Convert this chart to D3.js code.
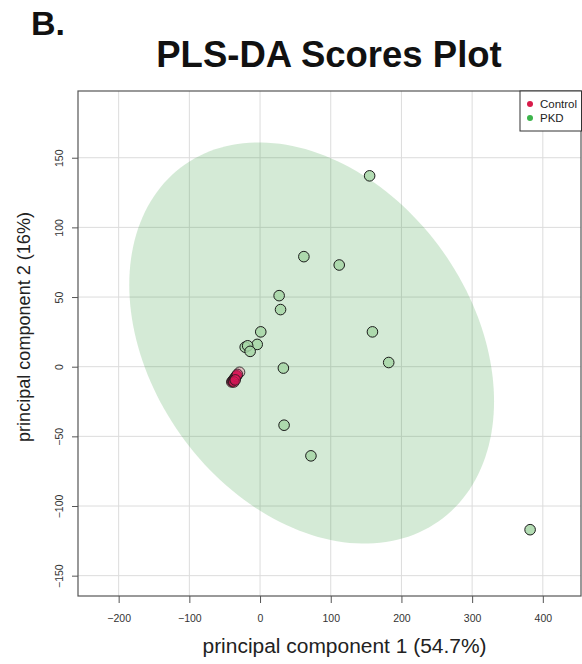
<!DOCTYPE html>
<html>
<head>
<meta charset="utf-8">
<script src="https://cdn.jsdelivr.net/npm/d3@7"></script>
<style>
  html, body { margin: 0; padding: 0; background: #fff; }
  svg { display: block; }
  text { font-family: "Liberation Sans", Arial, sans-serif; }
</style>
</head>
<body>
<svg id="chart" width="582" height="664"></svg>
<script>
// ---- data ----
const pkdX = [155, 62, 112, 27, 29, 1, 159, -4, -21, -17.5, -14, 182, 33, 34, 72, 382];
const pkdY = [137, 79, 73, 51, 41, 25, 25, 16, 14, 15, 11, 3, -1, -42, -64, -117];
const controlX = [-29, -40, -39, -38, -37, -36, -35, -34, -33, -32, -37, -35];
const controlY = [-4, -11, -10.5, -10, -9, -8.5, -8, -7, -6.5, -5.5, -11, -9.5];
const xTicks = [-200, -100, 0, 100, 200, 300, 400];
const yTicks = [-150, -100, -50, 0, 50, 100, 150];
const xDomain = [-257.5, 454];
const yDomain = [-164.6, 197.9];
// confidence ellipse of PKD group (centre, half extents, correlation)
const ellipseCenter = [73, 17];
const ellipseHalf = [258, 144];
const ellipseCorr = -0.29;
const legendLabels = ["Control", "PKD"];
const legendColors = ["#d81b4a", "#3cb44b"];

const svg = d3.select("#chart");
const L = 78, R = 581, T = 91, B = 596;
const x = d3.scaleLinear().domain(xDomain).range([L, R]);
const y = d3.scaleLinear().domain(yDomain).range([B, T]);

// titles
svg.append("text").attr("x", 31).attr("y", 35)
  .attr("font-size", 34).attr("font-weight", "bold").attr("fill", "#111").text("B.");
svg.append("text").attr("x", 329).attr("y", 67).attr("text-anchor", "middle")
  .attr("font-size", 36.5).attr("font-weight", "bold").attr("fill", "#111")
  .text("PLS-DA Scores Plot");

// grid
const g = svg.append("g");
g.selectAll(".gx").data(xTicks).join("line")
  .attr("x1", d => x(d)).attr("x2", d => x(d)).attr("y1", T).attr("y2", B)
  .attr("stroke", "#dcdcdc").attr("stroke-width", 1);
g.selectAll(".gy").data(yTicks).join("line")
  .attr("y1", d => y(d)).attr("y2", d => y(d)).attr("x1", L).attr("x2", R)
  .attr("stroke", "#dcdcdc").attr("stroke-width", 1);

// ellipse
const delta = Math.acos(ellipseCorr);
const tt = d3.range(0, 2 * Math.PI + 0.001, Math.PI / 90);
const ell = tt.map(t => [ellipseCenter[0] + ellipseHalf[0] * Math.cos(t),
                         ellipseCenter[1] + ellipseHalf[1] * Math.cos(t - delta)]);
svg.append("path").datum(ell)
  .attr("d", d3.line().x(d => x(d[0])).y(d => y(d[1])).curve(d3.curveLinearClosed))
  .attr("fill", "rgb(40,150,50)").attr("fill-opacity", 0.2).attr("stroke", "none");

// points
const pkd = pkdX.map((v, i) => [v, pkdY[i]]);
const ctrl = controlX.map((v, i) => [v, controlY[i]]);
svg.append("g").selectAll("circle").data(pkd).join("circle")
  .attr("cx", d => x(d[0])).attr("cy", d => y(d[1])).attr("r", 5.3)
  .attr("fill", "#a6d6a6").attr("fill-opacity", 0.85)
  .attr("stroke", "#1a1a1a").attr("stroke-width", 1);
svg.append("g").selectAll("circle").data(ctrl).join("circle")
  .attr("cx", d => x(d[0])).attr("cy", d => y(d[1])).attr("r", 5.3)
  .attr("fill", (d, i) => i === 0 ? "#e8a0b0" : "#e0185a").attr("fill-opacity", 0.6)
  .attr("stroke", "#1a1a1a").attr("stroke-width", 1).attr("stroke-opacity", 0.8);

// frame
svg.append("rect").attr("x", L).attr("y", T).attr("width", R - L).attr("height", B - T)
  .attr("fill", "none").attr("stroke", "#555").attr("stroke-width", 1.2);

// x axis
const xa = svg.append("g").attr("transform", `translate(0,${B})`)
  .call(d3.axisBottom(x).tickValues(xTicks).tickSize(7).tickPadding(12));
xa.select(".domain").remove();
xa.selectAll("line").attr("stroke", "#555");
xa.selectAll("text").attr("font-size", 10.5).attr("fill", "#333")
  .attr("font-family", "Liberation Sans, Arial, sans-serif");

// y axis
const ya = svg.append("g").attr("transform", `translate(${L},0)`)
  .call(d3.axisLeft(y).tickValues(yTicks).tickSize(6));
ya.select(".domain").remove();
ya.selectAll("line").attr("stroke", "#555");
ya.selectAll(".tick text")
  .attr("font-size", 10.5).attr("fill", "#333")
  .attr("font-family", "Liberation Sans, Arial, sans-serif")
  .attr("text-anchor", "middle").attr("x", 0).attr("y", 0).attr("dy", 0)
  .attr("transform", "translate(-15,0) rotate(-90)");

// axis titles
svg.append("text").attr("x", 344.5).attr("y", 653).attr("text-anchor", "middle")
  .attr("font-size", 20).attr("fill", "#222")
  .attr("textLength", 284).attr("lengthAdjust", "spacingAndGlyphs")
  .text("principal component 1 (54.7%)");
svg.append("text").attr("transform", "translate(30,327) rotate(-90)")
  .attr("text-anchor", "middle").attr("font-size", 19).attr("fill", "#222")
  .attr("textLength", 230).attr("lengthAdjust", "spacingAndGlyphs")
  .text("principal component 2 (16%)");

// legend
const lg = svg.append("g");
lg.append("rect").attr("x", 520).attr("y", T).attr("width", 61.5).attr("height", 40)
  .attr("fill", "#fff").attr("stroke", "#333").attr("stroke-width", 1);
legendLabels.forEach((lab, i) => {
  lg.append("circle").attr("cx", 530).attr("cy", 104 + i * 14).attr("r", 3).attr("fill", legendColors[i]);
  lg.append("text").attr("x", 540).attr("y", 108 + i * 14).attr("font-size", 11.5).attr("fill", "#222").text(lab);
});
</script>
</body>
</html>
